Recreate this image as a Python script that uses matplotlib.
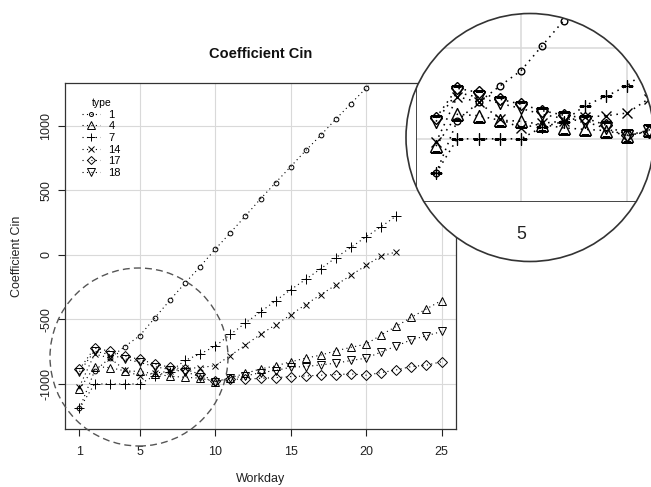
import matplotlib.pyplot as plt
from matplotlib.patches import Ellipse

plt.rcParams['font.family'] = ['Liberation Sans', 'DejaVu Sans']

# data
days = list(range(1, 26))
types = ["1", "4", "7", "14", "17", "18"]
cin_1 = [-1190, -900, -800, -710, -625, -487, -350, -218, -90, 45, 172, 302,
         435, 560, 685, 810, 929, 1054, 1174, 1293, 1413, 1533]
cin_4 = [-1040, -865, -873, -898, -903, -922, -940, -948, -955, -982, -952, -918,
         -883, -860, -828, -800, -776, -743, -716, -691, -620, -553, -483, -418, -353]
cin_7 = [-1190, -1000, -1000, -1000, -1000, -935, -905, -817, -767, -707, -616, -527,
         -441, -355, -269, -189, -106, -20, 59, 141, 219, 303]
cin_14 = [-1020, -768, -798, -890, -942, -915, -902, -880, -873, -858, -780, -698,
          -615, -542, -464, -384, -307, -233, -157, -81, -7, 23]
cin_17 = [-885, -722, -745, -782, -810, -845, -870, -885, -925, -980, -962, -964,
          -956, -951, -943, -938, -932, -927, -922, -932, -912, -891, -865, -854, -828]
cin_18 = [-905, -745, -772, -805, -833, -866, -888, -905, -943, -985, -955, -938,
          -912, -896, -870, -865, -852, -839, -818, -800, -752, -706, -657, -627, -593]
series = [cin_1, cin_4, cin_7, cin_14, cin_17, cin_18]

x_ticks = [1, 5, 10, 15, 20, 25]
y_ticks = [-1000, -500, 0, 500, 1000]
y_ticklabels = ["-1000", "-500", "0", "500", "1000"]

markers = ["o", "^", "+", "x", "D", "v"]
msizes = [3.4, 6, 6.5, 5, 4.6, 6]


def draw_panel(ax, k):
    for x in x_ticks[1:]:
        ax.axvline(x, color="#d9d9d9", lw=0.8 * k, zorder=0)
    for y in y_ticks:
        ax.axhline(y, color="#d9d9d9", lw=0.8 * k, zorder=0)
    for t, vals, m, ms in zip(types, series, markers, msizes):
        ax.plot(days[:len(vals)], vals, linestyle=(0, (1, 3)), color="black",
                lw=0.8 * k, marker=m, ms=ms * k, mfc="none", mec="black",
                mew=0.7 * k, label=t)
    ax.set_xlim(0.04, 25.96)
    ax.set_ylim(-1349, 1333)
    ax.set_xticks(x_ticks)
    ax.set_yticks(y_ticks)
    ax.set_yticklabels(y_ticklabels, rotation=90, va="center")
    ax.tick_params(length=5 * k, width=0.8 * k, labelsize=9 * k, colors="#222")
    ax.tick_params(axis="x", pad=7 * k)
    ax.tick_params(axis="y", pad=4 * k)
    for s in ax.spines.values():
        s.set_color("#333")
        s.set_linewidth(0.9 * k)


fig = plt.figure(figsize=(6.51, 4.87), dpi=100)
W, H = 651, 487

ax = fig.add_axes([65 / W, 1 - 429 / H, 391 / W, 346 / H])
draw_panel(ax, 1.0)
leg = ax.legend(title="type", loc="upper left", bbox_to_anchor=(0.043, 0.957),
                frameon=False, fontsize=8, title_fontsize=7.5, handlelength=1.6,
                handletextpad=0.8, labelspacing=0.15, borderpad=0, borderaxespad=0,
                markerscale=0.85)

fig.text(260.5 / W, 1 - 54 / H, "Coefficient Cin", ha="center", va="center",
         fontsize=10.5, fontweight="bold", color="#111")
fig.text(17 / W, 1 - 256 / H, "Coefficient Cin", ha="center", va="center",
         rotation=90, fontsize=9, color="#222")
fig.text(260.5 / W, 1 - 479 / H, "Workday", ha="center", va="center",
         fontsize=9, color="#222")

# dashed circle marking the magnified region
fig.add_artist(Ellipse((139 / W, 1 - 357 / H), 178 / W, 178 / H,
                       transform=fig.transFigure, fill=False, ec="#555",
                       lw=1, ls=(0, (5, 3)), zorder=1))

# magnified inset
cx, cy, r = 530, 137.5, 124
k = 1.41
fig.add_artist(Ellipse((cx / W, 1 - cy / H), 2 * r / W, 2 * r / H,
                       transform=fig.transFigure, fc="white", ec="none", zorder=2))
clip = Ellipse((cx / W, 1 - cy / H), 2 * r / W, 2 * r / H, transform=fig.transFigure)

left = 436 - 14.5 * k
bottom = 202.3
axi = fig.add_axes([left / W, 1 - bottom / H, 391 * k / W, 346 * k / H])
axi.set_zorder(3)
axi.patch.set_visible(False)
draw_panel(axi, k)
# only the "5" label falls inside the lens
axi.set_xticklabels(["" if x != 5 else "5" for x in x_ticks])
axi.set_yticklabels([""] * len(y_ticks))

arts = list(axi.lines) + list(axi.spines.values())
for tk in axi.xaxis.get_major_ticks() + axi.yaxis.get_major_ticks():
    arts += [tk.tick1line, tk.tick2line, tk.gridline]
for a in arts:
    a.set_clip_on(True)
    a.set_clip_path(clip)

fig.add_artist(Ellipse((cx / W, 1 - cy / H), 2 * r / W, 2 * r / H,
                       transform=fig.transFigure, fill=False, ec="#333",
                       lw=1.2, zorder=4))

fig.savefig("out.png", dpi=100)
